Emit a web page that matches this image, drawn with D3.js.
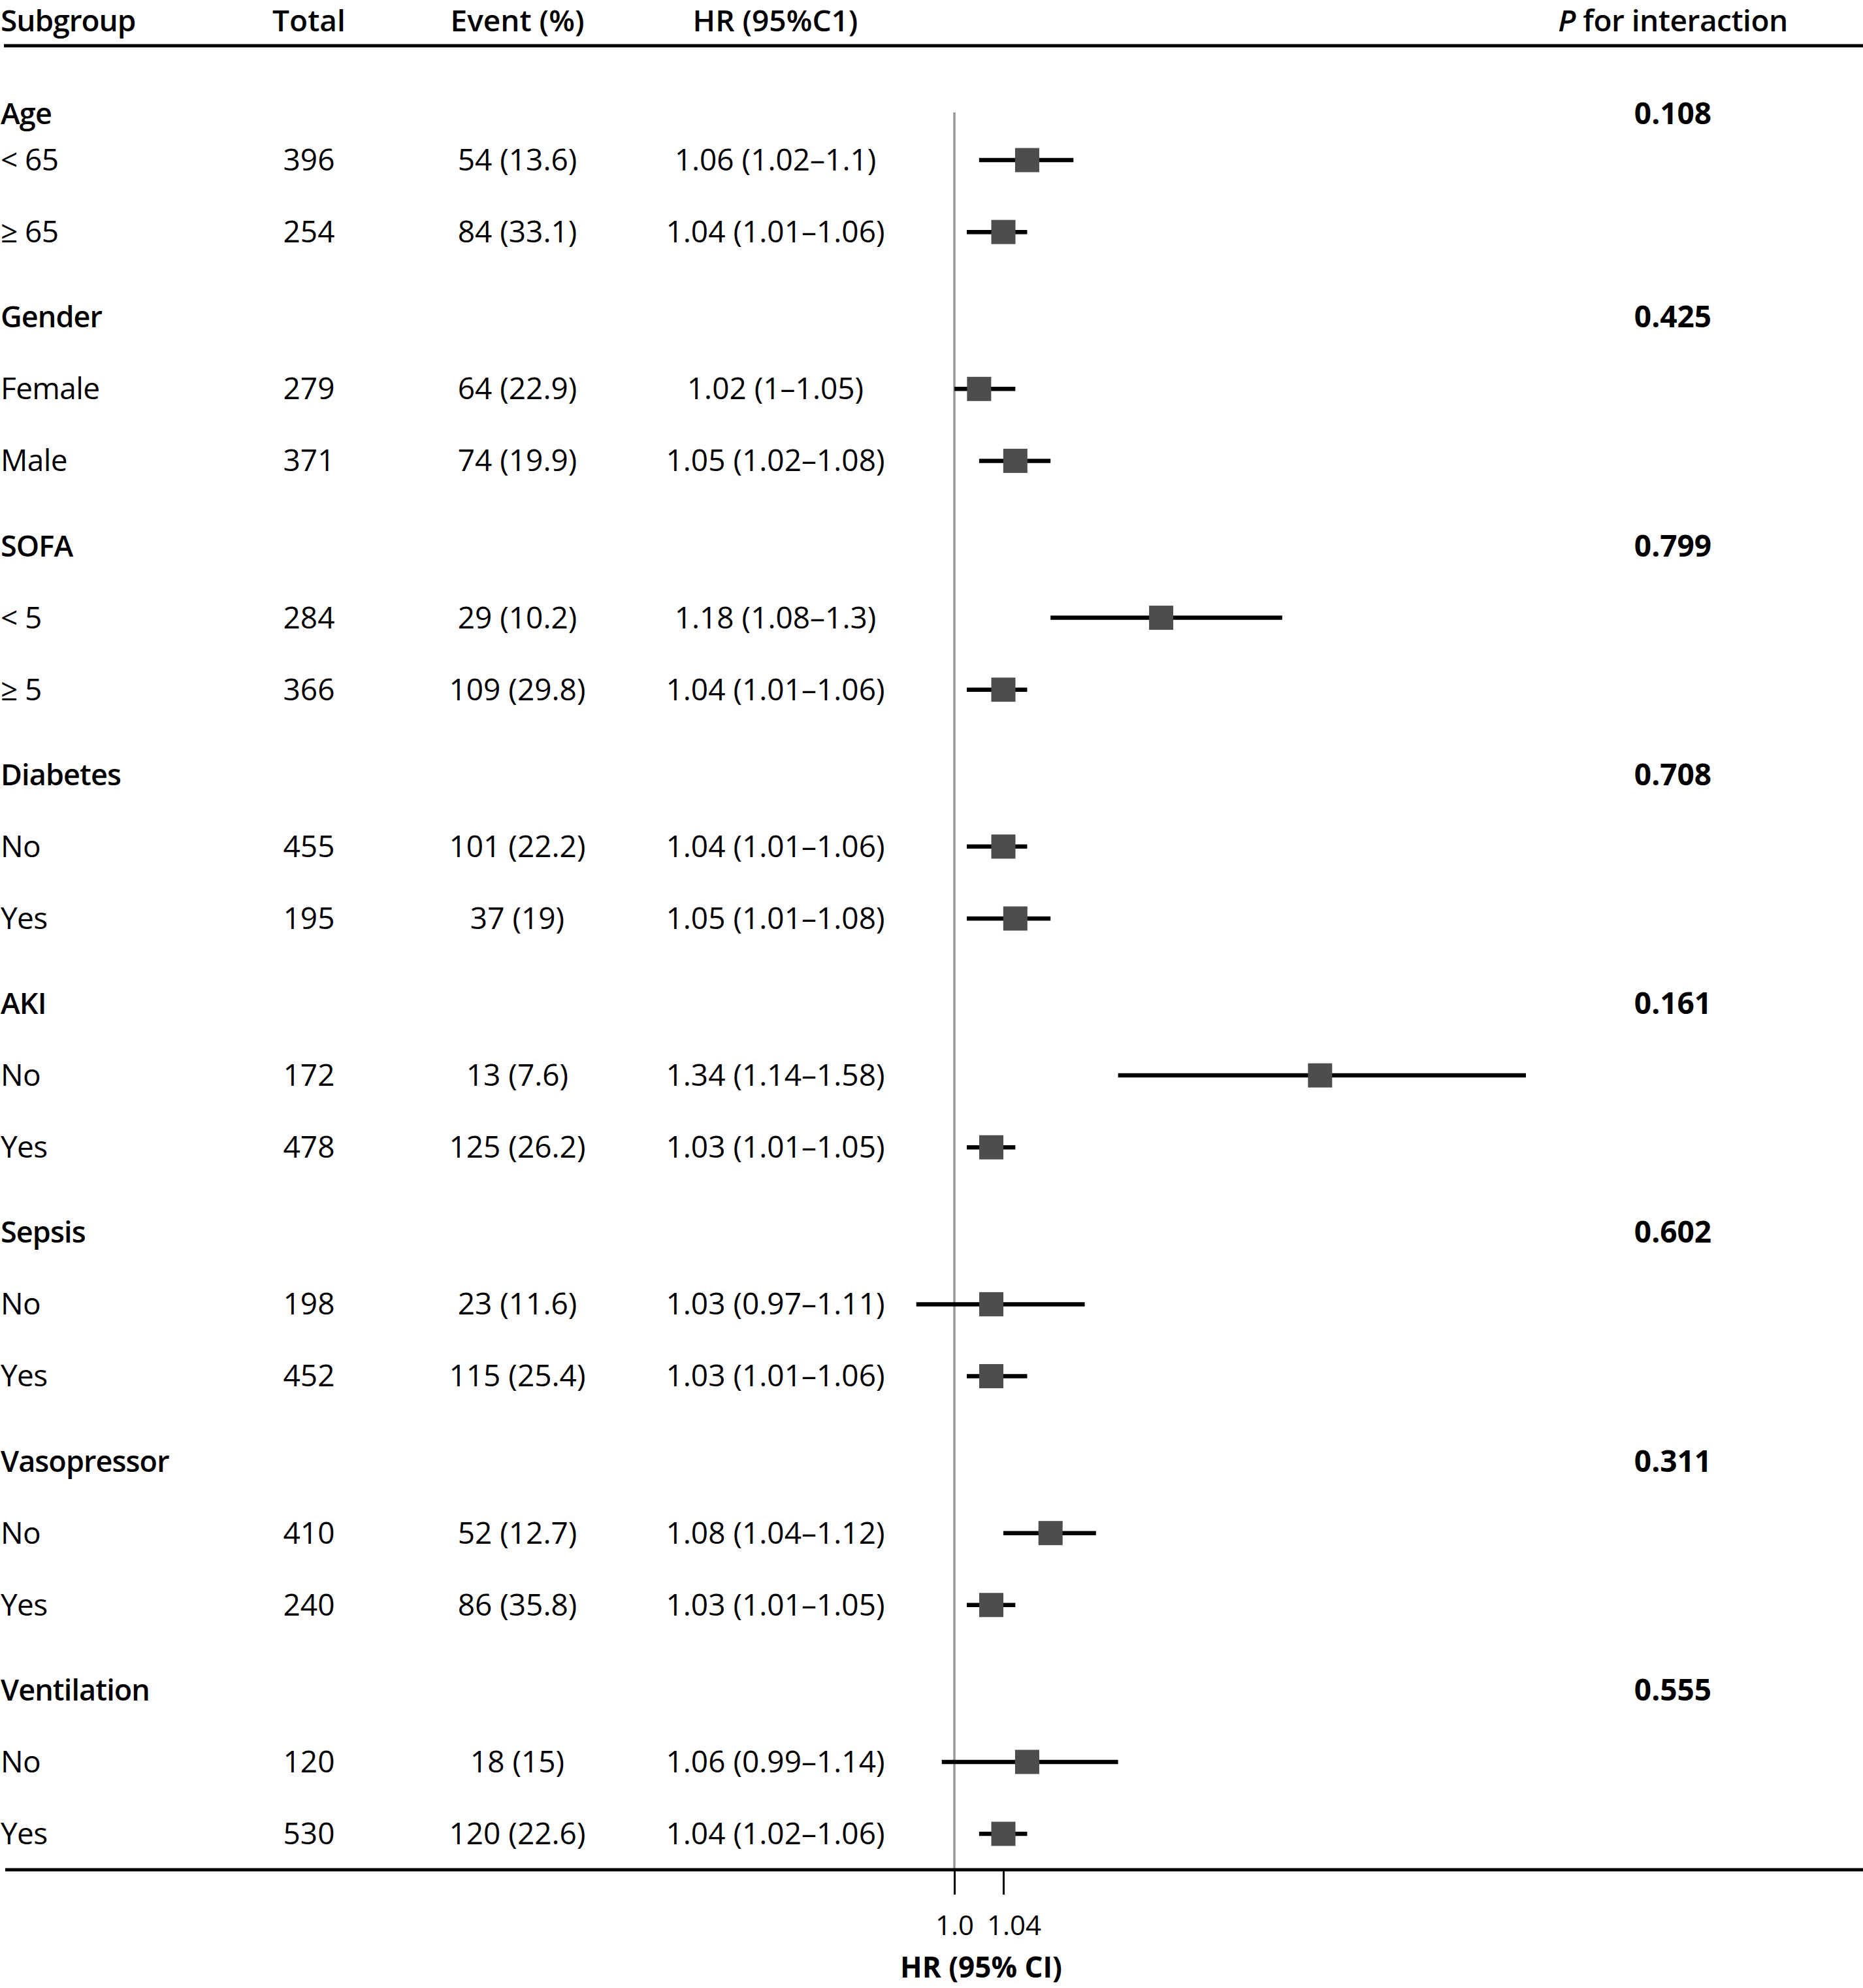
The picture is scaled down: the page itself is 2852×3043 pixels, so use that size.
<!DOCTYPE html>
<html>
<head>
<meta charset="utf-8">
<script src="https://cdn.jsdelivr.net/npm/d3@7"></script>
<style>
  body { margin: 0; background: #fff; }
  text { font-family: "Open Sans", "Noto Sans", sans-serif; fill: #000; }
</style>
</head>
<body>
<div id="chart"></div>
<script>
// subgroup categories
const groups = ['Age', 'Gender', 'SOFA', 'Diabetes', 'AKI', 'Sepsis', 'Vasopressor', 'Ventilation'];
const pInteraction = ['0.108', '0.425', '0.799', '0.708', '0.161', '0.602', '0.311', '0.555'];
const subLabels = [
    ['< 65', '≥ 65'], ['Female', 'Male'], ['< 5', '≥ 5'], ['No', 'Yes'],
    ['No', 'Yes'], ['No', 'Yes'], ['No', 'Yes'], ['No', 'Yes']
];
const totals = [396, 254, 279, 371, 284, 366, 455, 195, 172, 478, 198, 452, 410, 240, 120, 530];
const events = ['54 (13.6)', '84 (33.1)', '64 (22.9)', '74 (19.9)', '29 (10.2)', '109 (29.8)',
    '101 (22.2)', '37 (19)', '13 (7.6)', '125 (26.2)', '23 (11.6)', '115 (25.4)',
    '52 (12.7)', '86 (35.8)', '18 (15)', '120 (22.6)'];
const hr = [1.06, 1.04, 1.02, 1.05, 1.18, 1.04, 1.04, 1.05, 1.34, 1.03, 1.03, 1.03, 1.08, 1.03, 1.06, 1.04];
const lower = [1.02, 1.01, 1, 1.02, 1.08, 1.01, 1.01, 1.01, 1.14, 1.01, 0.97, 1.01, 1.04, 1.01, 0.99, 1.02];
const upper = [1.1, 1.06, 1.05, 1.08, 1.3, 1.06, 1.06, 1.08, 1.58, 1.05, 1.11, 1.06, 1.12, 1.05, 1.14, 1.06];
const tickValues = [1, 1.04];
const tickLabels = ['1.0', '1.04'];
const headers = ['Subgroup', 'Total', 'Event (%)', 'HR (95%C1)'];

const W = 2852, H = 3043;
const fs = 46;
const base = 16;  // half cap height, to put text centre on the row
const headY = 48;

// build the rows: a header row per group, then its subgroup rows
const rows = [];
let off = 0, k = 0;
groups.forEach((g, gi) => {
    if (gi > 0) off += 130;
    rows.push({ type: 'group', label: g, p: pInteraction[gi], off: off });
    subLabels[gi].forEach((s, si) => {
        off += (gi === 0 && si === 0) ? 71 : 110;
        rows.push({
            type: 'sub', label: s, total: totals[k], event: events[k],
            hr: hr[k], lo: lower[k], hi: upper[k], off: off
        });
        k++;
    });
});

const y = d3.scaleLinear().domain([0, off]).range([174, 2807]);
const x = d3.scaleLog().domain([1, 1.58]).range([1461, 2336]);

const col = { label: 1, total: 473, event: 792, hr: 1187, p: 2561 };

const svg = d3.select('#chart').append('svg').attr('width', W).attr('height', H);

// header row
svg.selectAll('.hdr')
    .data(headers)
    .enter().append('text')
    .attr('class', 'hdr')
    .attr('x', (d, i) => [col.label, col.total, col.event, col.hr][i])
    .attr('y', headY)
    .attr('text-anchor', (d, i) => i === 0 ? 'start' : 'middle')
    .style('font-size', fs + 'px')
    .style('font-weight', 600)
    .style('letter-spacing', (d, i) => i === 0 ? '-1px' : '0px')
    .text(d => d);

const pHead = svg.append('text')
    .attr('x', col.p).attr('y', headY)
    .attr('text-anchor', 'middle')
    .style('font-size', fs + 'px')
    .style('font-weight', 600)
    .style('letter-spacing', '-0.5px');
pHead.append('tspan').style('font-style', 'italic').text('P');
pHead.append('tspan').text(' for interaction');

svg.append('line')
    .attr('x1', 6).attr('x2', W).attr('y1', 70).attr('y2', 70)
    .style('stroke', '#000').style('stroke-width', 5);

// reference line at HR = 1
svg.append('line')
    .attr('x1', x(1)).attr('x2', x(1))
    .attr('y1', 172).attr('y2', 2862)
    .style('stroke', '#999').style('stroke-width', 3.5);

const groupRows = rows.filter(d => d.type === 'group');
const subRows = rows.filter(d => d.type === 'sub');

svg.selectAll('.glabel')
    .data(groupRows)
    .enter().append('text')
    .attr('class', 'glabel')
    .attr('x', col.label)
    .attr('y', d => y(d.off) + base)
    .style('font-size', '45px')
    .style('font-weight', 600)
    .style('letter-spacing', '-0.9px')
    .text(d => d.label);

svg.selectAll('.pval')
    .data(groupRows)
    .enter().append('text')
    .attr('class', 'pval')
    .attr('x', col.p)
    .attr('y', d => y(d.off) + base)
    .attr('text-anchor', 'middle')
    .style('font-size', fs + 'px')
    .style('font-weight', 700)
    .text(d => d.p);

const fields = [
    { key: 'label', x: col.label, anchor: 'start', fmt: d => d.label },
    { key: 'total', x: col.total, anchor: 'middle', fmt: d => d.total },
    { key: 'event', x: col.event, anchor: 'middle', fmt: d => d.event },
    { key: 'hr', x: col.hr, anchor: 'middle', fmt: d => `${d.hr} (${d.lo}–${d.hi})` }
];

fields.forEach(f => {
    svg.selectAll('.c-' + f.key)
        .data(subRows)
        .enter().append('text')
        .attr('class', 'c-' + f.key)
        .attr('x', f.x)
        .attr('y', d => y(d.off) + base)
        .attr('text-anchor', f.anchor)
        .style('font-size', fs + 'px')
        .style('letter-spacing', f.key === 'label' ? '-0.6px' : '0px')
        .text(f.fmt);
});

// CI lines and squares
svg.selectAll('.ci')
    .data(subRows)
    .enter().append('line')
    .attr('class', 'ci')
    .attr('x1', d => x(d.lo)).attr('x2', d => x(d.hi))
    .attr('y1', d => y(d.off)).attr('y2', d => y(d.off))
    .style('stroke', '#000').style('stroke-width', 6.5);

const sq = 37;
svg.selectAll('.pt')
    .data(subRows)
    .enter().append('rect')
    .attr('class', 'pt')
    .attr('x', d => x(d.hr) - sq / 2)
    .attr('y', d => y(d.off) - sq / 2)
    .attr('width', sq).attr('height', sq)
    .style('fill', '#4d4d4d');

// bottom rule and axis
svg.append('line')
    .attr('x1', 8).attr('x2', W).attr('y1', 2862).attr('y2', 2862)
    .style('stroke', '#000').style('stroke-width', 5);

const axis = svg.append('g')
    .attr('transform', 'translate(0,2864)')
    .call(d3.axisBottom(x).tickValues(tickValues).tickFormat((d, i) => tickLabels[i]).tickSize(36).tickPadding(32));
axis.select('.domain').remove();
axis.selectAll('.tick line').style('stroke', '#000').style('stroke-width', 3);
axis.selectAll('.tick text')
    .style('font-size', '42px')
    .style('font-family', '"Open Sans", sans-serif')
    .attr('fill', '#000')
    .attr('dx', (d, i) => i === 0 ? 0 : 16);

svg.append('text')
    .attr('x', 1502).attr('y', 3027)
    .attr('text-anchor', 'middle')
    .style('font-size', '44px')
    .style('font-weight', 700)
    .text('HR (95% CI)');
</script>
</body>
</html>
